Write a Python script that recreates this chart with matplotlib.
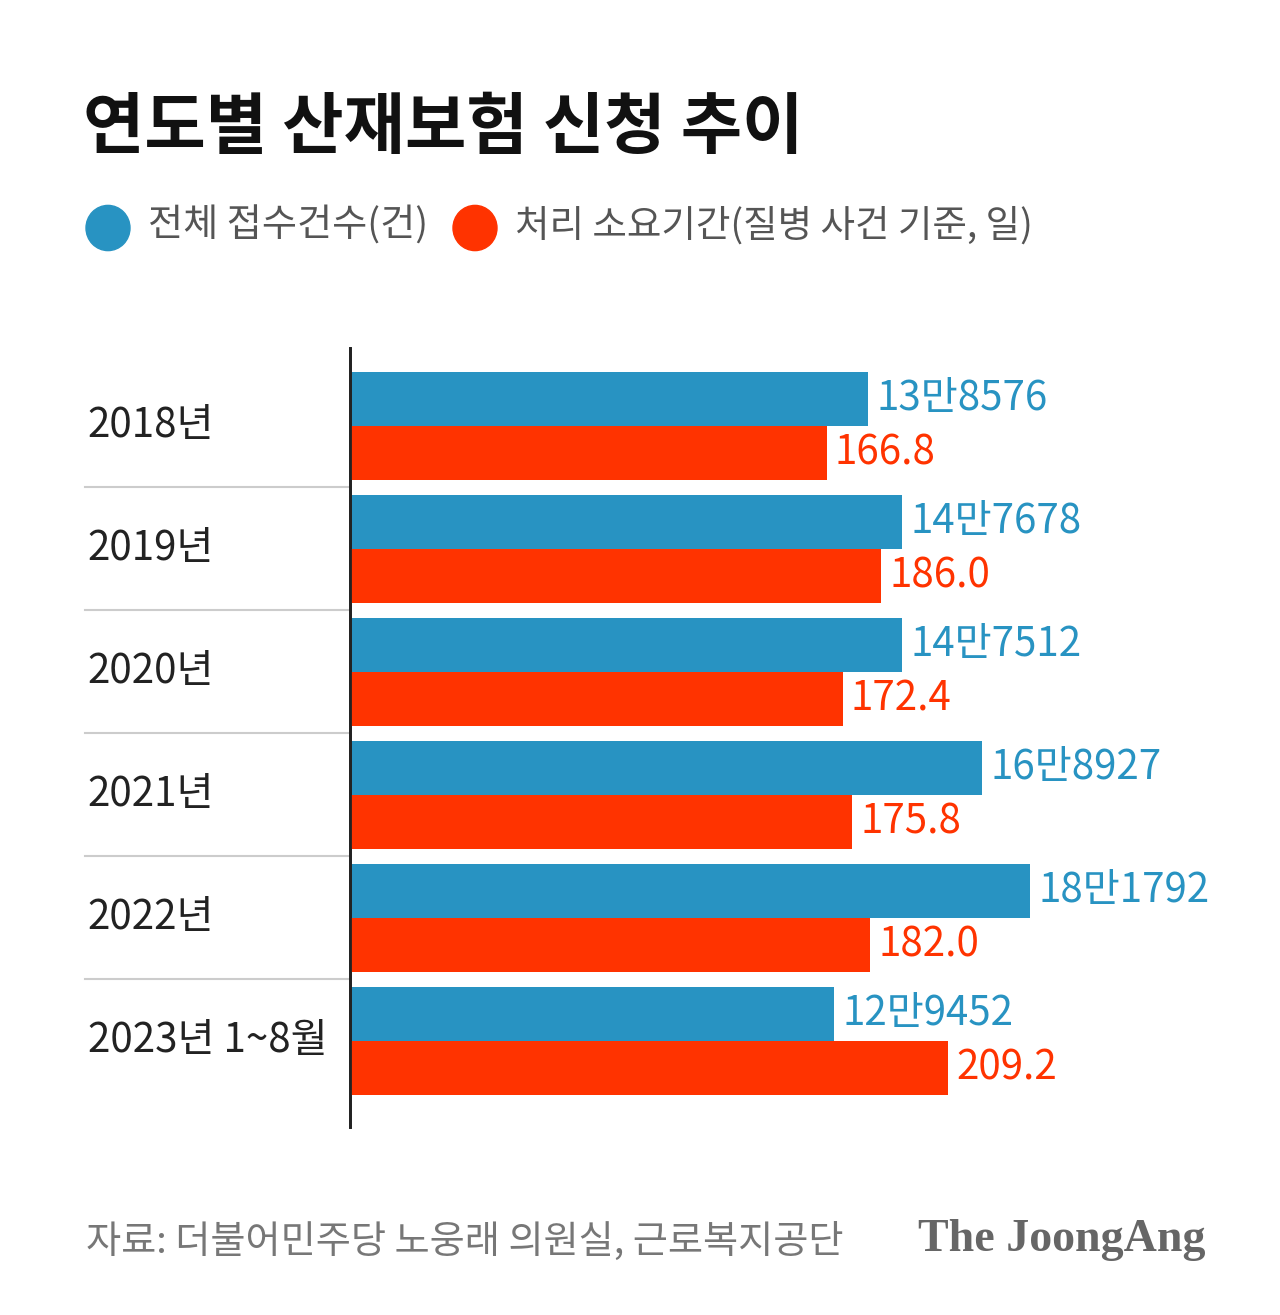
import matplotlib.pyplot as plt
from matplotlib.patches import Circle

plt.rcParams['font.family'] = ['Noto Sans CJK KR', 'DejaVu Sans']

years = ['2018년', '2019년', '2020년', '2021년', '2022년', '2023년 1~8월']
cases = [138576, 147678, 147512, 168927, 181792, 129452]
case_labels = ['13만8576', '14만7678', '14만7512', '16만8927', '18만1792', '12만9452']
days = [166.8, 186.0, 172.4, 175.8, 182.0, 209.2]

blue = '#2893c2'
red = '#ff3300'

W, H = 1280, 1315
fig = plt.figure(figsize=(W / 100, H / 100), dpi=100)
fig.patch.set_facecolor('white')

def fx(px):
    return px / W

def fy(py):
    return 1 - py / H

ax = fig.add_axes([fx(350), fy(1127), fx(1240) - fx(350), fy(348) - fy(1127)])
ax2 = ax.twiny()

pos = list(range(len(years)))
bh = 0.44
ax.barh([p - bh / 2 for p in pos], cases, height=bh, color=blue)
ax2.barh([p + bh / 2 for p in pos], days, height=bh, color=red)

ax.set_xlim(0, 237931)
ax2.set_xlim(0, 311.5)
ax.set_ylim(5.70, -0.634)

for a in (ax, ax2):
    for s in ('top', 'right', 'bottom'):
        a.spines[s].set_visible(False)
    a.spines['left'].set_color('#222222')
    a.spines['left'].set_linewidth(2)
    a.set_xticks([])
    a.set_yticks([])

# value labels
for p, v, lab in zip(pos, cases, case_labels):
    ax.annotate(lab, (v, p - bh / 2), xytext=(6, 0), textcoords='offset points',
                va='center', ha='left', fontsize=29, color=blue)
for p, v in zip(pos, days):
    ax2.annotate(f'{v:.1f}', (v, p + bh / 2), xytext=(6, 0), textcoords='offset points',
                 va='center', ha='left', fontsize=29, color=red)

# category labels and separators
tr = ax.get_yaxis_transform()
x0 = (85 - 350) / (1240 - 350)
for p, y in zip(pos, years):
    ax.text(x0 + 0.003, p, y, transform=tr, ha='left', va='center',
            fontsize=29, color='#222222')
for p in pos[:-1]:
    ax.plot([x0, 0], [p + 0.5, p + 0.5], transform=tr, color='#cccccc',
            lw=1.5, clip_on=False)

# title
fig.text(fx(83), fy(128), '연도별 산재보험 신청 추이', fontsize=48, fontweight='black',
         color='#111111', ha='left', va='center')

# legend
fig.patches.append(Circle((fx(108), fy(228)), 22 / W, transform=fig.transFigure,
                          color=blue))
fig.text(fx(148), fy(226), '전체 접수건수(건)', fontsize=27.5, color='#555555',
         ha='left', va='center')
fig.patches.append(Circle((fx(475), fy(228)), 22 / W, transform=fig.transFigure,
                          color=red))
fig.text(fx(515), fy(226), '처리 소요기간(질병 사건 기준, 일)', fontsize=27,
         color='#555555', ha='left', va='center')

# footer
fig.text(fx(86), fy(1242), '자료: 더불어민주당 노웅래 의원실, 근로복지공단', fontsize=27.5,
         color='#777777', ha='left', va='center')
fig.text(fx(1205), fy(1240), 'The JoongAng', fontsize=33, color='#666666',
         family='Liberation Serif', fontweight='bold', ha='right', va='center')

fig.savefig('out.png', dpi=100, facecolor='white')
